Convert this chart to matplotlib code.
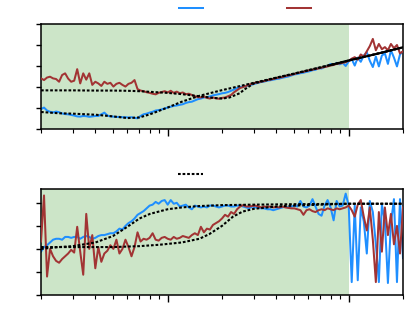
import numpy as np
import matplotlib
matplotlib.use("Agg")
import matplotlib.pyplot as plt
from matplotlib.lines import Line2D

# ---------------- data ----------------
f_min, f_max = 0.2, 20.0
shade_range = (0.2, 10.0)

top_blue = [0.95, 1.02, 0.88, 0.82, 0.79, 0.83, 0.80, 0.74, 0.71, 0.70,
            0.67, 0.64, 0.60, 0.59, 0.62, 0.61, 0.58, 0.60, 0.62, 0.62,
            0.70, 0.78, 0.64, 0.60, 0.59, 0.57, 0.58, 0.56, 0.56, 0.55,
            0.56, 0.53, 0.51, 0.62, 0.70, 0.73, 0.78, 0.82, 0.88, 0.90,
            0.93, 0.98, 1.02, 1.06, 1.10, 1.12, 1.15, 1.18, 1.24, 1.28,
            1.30, 1.36, 1.42, 1.45, 1.50, 1.52, 1.55, 1.60, 1.63, 1.66,
            1.70, 1.72, 1.76, 1.82, 1.88, 1.95, 2.00, 2.02, 2.05, 2.08,
            2.12, 2.16, 2.20, 2.24, 2.26, 2.30, 2.32, 2.35, 2.38, 2.40,
            2.44, 2.47, 2.50, 2.55, 2.60, 2.62, 2.66, 2.68, 2.72, 2.75,
            2.80, 2.82, 2.90, 2.88, 2.95, 3.00, 3.10, 3.05, 3.15, 3.08,
            3.15, 3.00, 3.22, 3.33, 3.02, 3.40, 3.20, 3.50, 3.65, 3.25,
            2.95, 3.45, 2.98, 3.50, 3.60, 3.10, 3.75, 3.40, 2.98, 3.55,
            3.70]

top_red = [2.41, 2.33, 2.45, 2.49, 2.41, 2.38, 2.25, 2.57, 2.65, 2.40,
           2.25, 2.30, 2.85, 2.17, 2.65, 2.35, 2.65, 2.10, 2.25, 2.17,
           2.05, 2.25, 2.15, 2.20, 2.02, 2.15, 2.20, 2.10, 2.02, 2.15,
           2.20, 2.33, 1.90, 1.83, 1.80, 1.75, 1.72, 1.68, 1.65, 1.72,
           1.76, 1.80, 1.74, 1.82, 1.72, 1.78, 1.70, 1.74, 1.66, 1.68,
           1.62, 1.56, 1.52, 1.50, 1.55, 1.48, 1.45, 1.50, 1.46, 1.44,
           1.48, 1.50, 1.56, 1.62, 1.75, 1.85, 1.95, 2.00, 2.05, 2.12,
           2.15, 2.20, 2.22, 2.26, 2.28, 2.33, 2.35, 2.38, 2.42, 2.45,
           2.47, 2.52, 2.55, 2.58, 2.62, 2.66, 2.70, 2.72, 2.76, 2.80,
           2.82, 2.86, 2.88, 2.92, 2.95, 2.98, 3.02, 3.05, 3.10, 3.12,
           3.15, 3.18, 3.25, 3.35, 3.42, 3.30, 3.55, 3.45, 3.70, 3.95,
           4.29, 3.75, 4.05, 3.80, 3.90, 3.75, 4.05, 3.85, 4.00, 3.60,
           3.70]

bot_blue = [0.47, 0.52, 0.54, 0.57, 0.60, 0.61, 0.61, 0.60, 0.63, 0.63,
            0.62, 0.63, 0.63, 0.61, 0.63, 0.64, 0.63, 0.61, 0.62, 0.64,
            0.65, 0.65, 0.66, 0.67, 0.67, 0.69, 0.72, 0.71, 0.75, 0.78,
            0.80, 0.83, 0.87, 0.89, 0.91, 0.94, 0.97, 0.98, 1.01, 0.99,
            1.02, 1.03, 0.98, 1.03, 0.99, 1.00, 0.96, 0.97, 0.98, 0.95,
            0.93, 0.97, 0.96, 0.95, 0.96, 0.95, 0.97, 0.97, 0.96, 0.95,
            0.96, 0.97, 0.97, 0.96, 0.96, 0.97, 0.97, 0.96, 0.95, 0.94,
            0.96, 0.95, 0.95, 0.94, 0.94, 0.93, 0.93, 0.92, 0.93, 0.94,
            0.95, 0.96, 0.95, 0.96, 0.97, 0.96, 1.02, 0.96, 0.95, 0.97,
            1.04, 0.96, 0.88, 0.86, 0.97, 1.03, 0.95, 0.81, 1.02, 0.96,
            0.97, 1.10, 0.97, 0.14, 0.97, 0.16, 0.95, 0.80, 0.45, 1.02,
            0.90, 0.55, 0.14, 0.98, 0.80, 0.13, 0.78, 1.04, 0.14, 1.04,
            0.40]

bot_red = [0.58, 1.08, 0.20, 0.50, 0.42, 0.37, 0.35, 0.39, 0.42, 0.45,
           0.49, 0.46, 0.74, 0.47, 0.22, 0.88, 0.50, 0.65, 0.29, 0.52,
           0.36, 0.45, 0.48, 0.54, 0.50, 0.60, 0.45, 0.50, 0.60, 0.52,
           0.42, 0.52, 0.68, 0.58, 0.61, 0.60, 0.62, 0.67, 0.60, 0.59,
           0.62, 0.63, 0.61, 0.60, 0.63, 0.61, 0.62, 0.64, 0.63, 0.62,
           0.65, 0.67, 0.65, 0.74, 0.68, 0.72, 0.71, 0.76, 0.78, 0.80,
           0.83, 0.87, 0.85, 0.90, 0.88, 0.93, 0.96, 0.975, 0.96, 0.96,
           0.965, 0.97, 0.96, 0.95, 0.96, 0.955, 0.96, 0.95, 0.955, 0.95,
           0.96, 0.95, 0.945, 0.94, 0.94, 0.93, 0.92, 0.87, 0.92, 0.93,
           0.91, 0.90, 0.92, 0.93, 0.92, 0.94, 0.93, 0.92, 0.94, 0.93,
           0.94, 0.95, 0.97, 0.92, 0.85, 0.98, 1.03, 0.85, 0.70, 0.95,
           0.60, 0.14, 0.90, 0.47, 0.95, 0.65, 0.88, 0.55, 0.75, 0.45,
           0.95]

# fitted curves (top)
fit_top_blue_f = [0.2, 0.25, 0.3, 0.4, 0.5, 0.6, 0.7, 0.8, 1.0, 1.2, 1.5, 2, 2.5, 3, 4, 5, 7, 10, 15, 20]
fit_top_blue = [0.81, 0.75, 0.73, 0.68, 0.60, 0.52, 0.55, 0.70, 1.02, 1.30, 1.58, 1.85, 2.04, 2.20, 2.45, 2.64, 2.94, 3.26, 3.62, 3.89]
fit_top_red_f = [0.2, 0.3, 0.4, 0.5, 0.6, 0.7, 0.8, 1.0, 1.2, 1.5, 1.8, 2.0, 2.2, 2.5, 2.7, 3, 4, 5, 7, 10, 15, 20]
fit_top_red = [1.84, 1.84, 1.83, 1.83, 1.82, 1.80, 1.77, 1.72, 1.66, 1.56, 1.48, 1.45, 1.50, 1.70, 1.92, 2.17, 2.44, 2.63, 2.93, 3.26, 3.62, 3.89]
fit_top_solid_f = [8, 10, 15, 20]
fit_top_solid = [3.05, 3.26, 3.62, 3.89]

# fitted curves (bottom)
fit_bot_blue_f = [0.2, 0.25, 0.3, 0.4, 0.5, 0.6, 0.7, 0.8, 1.0, 1.2, 1.5, 2, 3, 5, 10, 20]
fit_bot_blue = [0.50, 0.52, 0.53, 0.57, 0.64, 0.74, 0.83, 0.88, 0.93, 0.95, 0.965, 0.975, 0.98, 0.985, 0.99, 0.99]
fit_bot_red_f = [0.2, 0.3, 0.5, 0.7, 0.9, 1.2, 1.5, 1.7, 2.0, 2.3, 2.6, 3, 4, 5, 7, 10, 20]
fit_bot_red = [0.52, 0.52, 0.52, 0.53, 0.545, 0.57, 0.61, 0.66, 0.75, 0.85, 0.905, 0.935, 0.96, 0.97, 0.98, 0.99, 0.99]

top_yticks = [0, 1, 2, 3, 4, 5]
bot_yticks = [0, 0.25, 0.5, 0.75, 1.0]

# ---------------- style ----------------
BLUE = '#1f8fff'
RED = '#a23434'
GREEN = '#cce5c8'
dash = (0, (1.3, 0.9))
LW = 1.45
FLW = 1.5

W, H = 407, 326
fig = plt.figure(figsize=(W / 100, H / 100), dpi=100)

def px_axes(x0, y0, x1, y1):
    return fig.add_axes([x0 / W, 1 - y1 / H, (x1 - x0) / W, (y1 - y0) / H])

ax1 = px_axes(41, 24, 403, 129)
ax2 = px_axes(41, 189, 403, 295)

freq_top = np.geomspace(f_min, f_max, len(top_blue))
freq_bot = np.geomspace(f_min, f_max, len(bot_blue))

for ax in (ax1, ax2):
    ax.set_xscale('log')
    ax.set_xlim(f_min, f_max)
    ax.axvspan(*shade_range, color=GREEN, lw=0, zorder=0)
    for s in ax.spines.values():
        s.set_linewidth(1.1)
        s.set_color('black')
    ax.tick_params(which='major', axis='x', length=5, width=1.0, direction='out')
    ax.tick_params(which='minor', axis='x', length=3, width=0.8, direction='out')
    ax.tick_params(axis='y', length=3.5, width=1.0, direction='out')
    ax.tick_params(labelleft=False, labelbottom=False)

ax1.plot(freq_top, top_blue, color=BLUE, lw=LW, zorder=2)
ax1.plot(freq_top, top_red, color=RED, lw=LW, zorder=3)
ax1.plot(fit_top_blue_f, fit_top_blue, color='black', lw=FLW, ls=dash, zorder=4)
ax1.plot(fit_top_red_f, fit_top_red, color='black', lw=FLW, ls=dash, zorder=4)
ax1.plot(fit_top_solid_f, fit_top_solid, color='black', lw=1.5, zorder=5)
ax1.set_ylim(0, 5)
ax1.set_yticks(top_yticks)

ax2.plot(freq_bot, bot_blue, color=BLUE, lw=LW, zorder=2)
ax2.plot(freq_bot, bot_red, color=RED, lw=LW, zorder=3)
ax2.plot(fit_bot_blue_f, fit_bot_blue, color='black', lw=FLW, ls=dash, zorder=4)
ax2.plot(fit_bot_red_f, fit_bot_red, color='black', lw=FLW, ls=dash, zorder=4)
ax2.set_ylim(0, 1.15)
ax2.set_yticks(bot_yticks)

# legends (labels are blank in the reference)
h_blue = Line2D([], [], color=BLUE, lw=LW)
h_red = Line2D([], [], color=RED, lw=LW)
h_fit = Line2D([], [], color='black', lw=FLW, ls=dash)
fig.legend([h_blue, h_red], ['', ''], ncol=2, loc='center left',
           bbox_to_anchor=(179 / W, 1 - 9 / H), frameon=False, borderpad=0,
           borderaxespad=0, handlelength=1.75, handletextpad=0.8,
           columnspacing=5.2, fontsize=10)
fig.legend([h_fit], [''], loc='center left',
           bbox_to_anchor=(178 / W, 1 - 175 / H), frameon=False, borderpad=0,
           borderaxespad=0, handlelength=1.8, fontsize=10)

fig.savefig('out.png', dpi=100)
